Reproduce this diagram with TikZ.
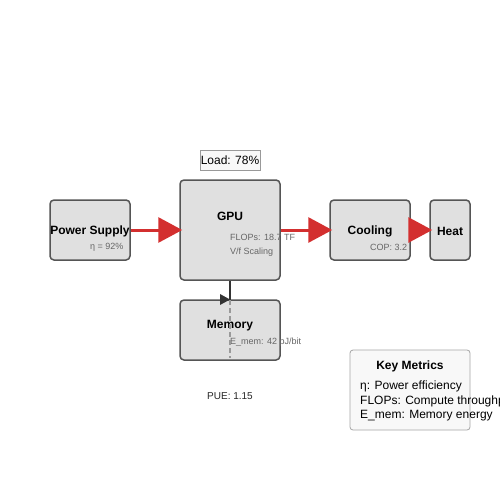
\documentclass[tikz,border=0pt]{standalone}
\usepackage{fontspec}
\setmainfont{Liberation Sans}
\usetikzlibrary{arrows.meta}
\definecolor{boxfill}{HTML}{E0E0E0}
\definecolor{boxdraw}{HTML}{555555}
\definecolor{flowred}{HTML}{D32F2F}
\definecolor{subtext}{HTML}{666666}
\definecolor{lightfill}{HTML}{F8F8F8}
\tikzset{
  comp/.style={draw=boxdraw, fill=boxfill, line width=1.5pt, rounded corners=4pt, inner sep=0pt},
  title/.style={font=\fontsize{12}{14}\selectfont\bfseries, text=black, inner sep=0pt},
  sub/.style={font=\fontsize{9}{11}\selectfont, text=subtext, inner sep=0pt, anchor=west},
  flow/.style={draw=flowred, line width=3pt, shorten >=-3pt, -{Triangle[length=24pt,width=25pt,fill=flowred]}},
}
\begin{document}
\begin{tikzpicture}[x=1pt,y=-1pt]
\useasboundingbox (0,0) rectangle (500,500);
\clip (0,0) rectangle (500,500);
\fill[white] (0,0) rectangle (500,500);
% components
\node[comp, minimum width=80pt, minimum height=60pt] (ps) at (90,230) {};
\node[comp, minimum width=100pt, minimum height=100pt] (gpu) at (230,230) {};
\node[comp, minimum width=80pt, minimum height=60pt] (cool) at (370,230) {};
\node[comp, minimum width=40pt, minimum height=60pt] (heat) at (450,230) {};
\node[comp, minimum width=100pt, minimum height=60pt] (mem) at (230,330) {};
% load box
\node[draw=gray!80, fill=lightfill, line width=0.8pt, minimum width=60pt, minimum height=20pt, inner sep=0pt, font=\fontsize{12}{14}\selectfont] (load) at (230,160) {Load: 78\%};
% titles
\node[title] (pst) at (90,231) {Power Supply};
\node[title] (gput) at (230,216) {GPU};
\node[title] (coolt) at (370,231) {Cooling};
\node[title] (heatt) at (450,231) {Heat};
\node[title] (memt) at (230,326) {Memory};
% sub labels
\node[sub] (eta) at (90,247) {η = 92\%};
\node[sub] (flops) at (230,237) {FLOPs: 18.7 TF};
\node[sub] (vf) at (230,252) {V/f Scaling};
\node[sub] (cop) at (370,247) {COP: 3.2};
\node[sub] (emem) at (230,342) {E\_mem: 42 pJ/bit};
% flows
\draw[flow] (ps.east) -- (gpu.west);
\draw[flow] (gpu.east) -- (cool.west);
\draw[flow] (cool.east) -- (heat.west);
% gpu to memory
\coordinate (mtip) at (230,299.5);
\draw[draw=black!80, line width=1.5pt] (gpu.south) -- (mtip);
\fill[black!80] (220,294) -- (mtip) -- (220,305) -- cycle;
\coordinate (dtop) at (230,300);
\coordinate (dbot) at (230,358);
\draw[gray!80, line width=1.5pt, dash pattern=on 5pt off 3pt] (dtop) -- (dbot);
% PUE
\node[font=\fontsize{10}{12}\selectfont, text=black!85, inner sep=0pt] (pue) at (230,396) {PUE: 1.15};
% key metrics
\node[draw=gray!70, fill=lightfill, line width=0.8pt, rounded corners=3pt, minimum width=120pt, minimum height=80pt, inner sep=0pt] (key) at (410,390) {};
\node[title] (keyt) at (410,366) {Key Metrics};
\node[font=\fontsize{12}{14}\selectfont, inner sep=0pt, anchor=west] (k1) at (360,386) {η: Power efficiency};
\node[font=\fontsize{12}{14}\selectfont, inner sep=0pt, anchor=west] (k2) at (360,401) {FLOPs: Compute throughput};
\node[font=\fontsize{12}{14}\selectfont, inner sep=0pt, anchor=west] (k3) at (360,416) {E\_mem: Memory energy};
\end{tikzpicture}
\end{document}
